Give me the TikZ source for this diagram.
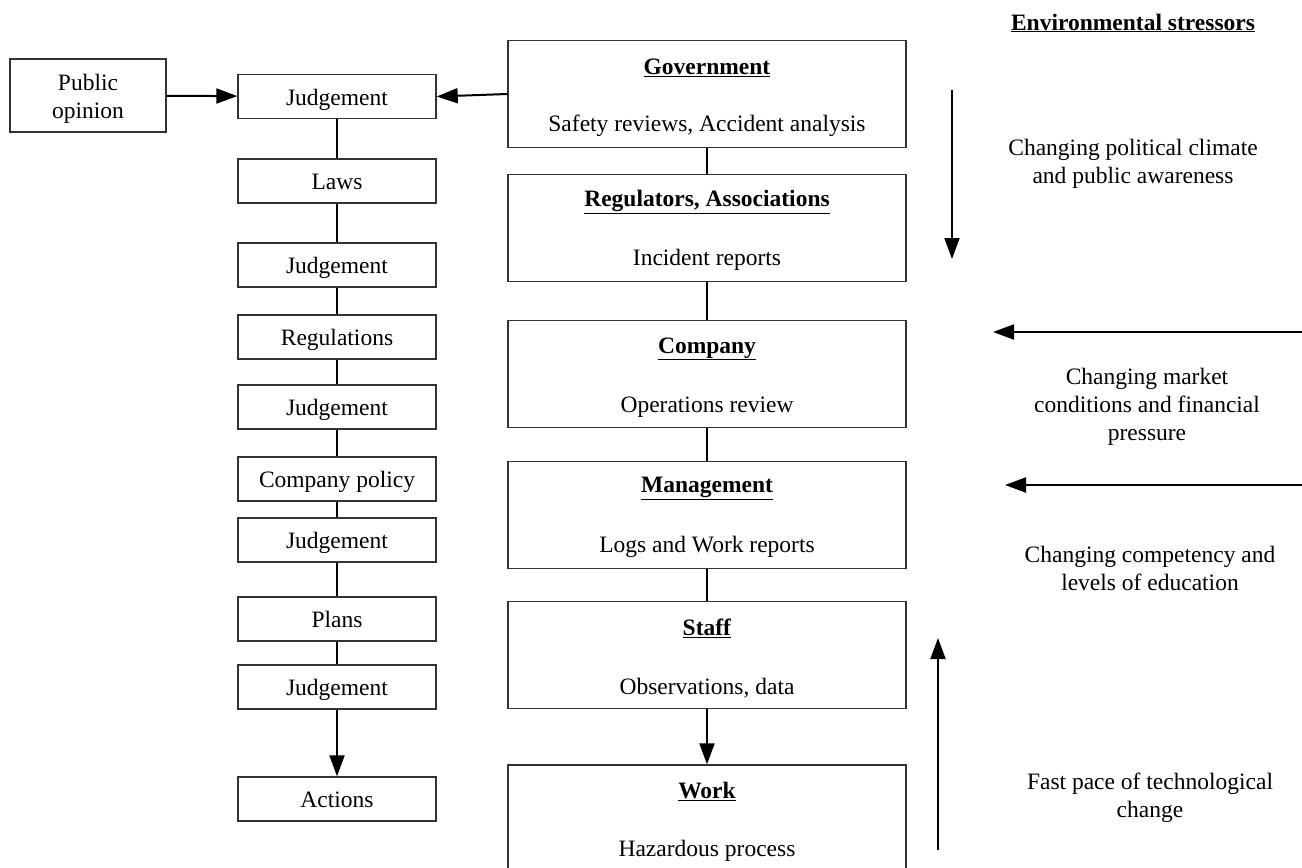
\documentclass[tikz,border=0pt]{standalone}
\usepackage{fontspec}
\setmainfont{Liberation Serif}
\usetikzlibrary{arrows.meta}
\begin{document}
\begin{tikzpicture}[x=1pt,y=-1pt,
  every node/.style={font=\fontsize{23.5}{28}\selectfont, inner sep=0pt},
  lbox/.style={draw=black!80, line width=1.4pt, minimum width=198pt, minimum height=44pt, text height=18pt, text depth=1pt},
  rbox/.style={draw=black!80, line width=1.4pt, minimum width=398pt, minimum height=107pt},
  conn/.style={line width=2pt, black},
  arr/.style={conn, -{Triangle[length=21pt,width=15pt]}},
  txt/.style={align=center}
]
\useasboundingbox (0,0) rectangle (1302,868);

% public opinion
\node[draw=black!80, line width=1.4pt, minimum width=156pt, minimum height=73pt] (pub) at (88,95.5) {};
\node[txt] (pubt) at ([yshift=-3pt]pub.center) {Public\\opinion};

% left column
\node[lbox] (j1) at (337,96.5) {Judgement};
\node[lbox] (laws) at (337,181) {Laws};
\node[lbox] (j2) at (337,265) {Judgement};
\node[lbox] (regs) at (337,337) {Regulations};
\node[lbox] (j3) at (337,407) {Judgement};
\node[lbox] (cpol) at (337,479) {Company policy};
\node[lbox] (j4) at (337,540) {Judgement};
\node[lbox] (plans) at (337,619) {Plans};
\node[lbox] (j5) at (337,687) {Judgement};
\node[lbox] (act) at (337,799) {Actions};

% right column
\node[rbox] (gov) at (707,94) {};
\node[rbox] (reg) at (707,228) {};
\node[rbox] (comp) at (707,374) {};
\node[rbox] (mgmt) at (707,515) {};
\node[rbox] (staff) at (707,655) {};
\node[rbox] (work) at (707,818.5) {};

\node (govt) at ([yshift=-28pt]gov.north) {\underline{\textbf{Government}}};
\node (govs) at ([yshift=22pt]gov.south) {Safety reviews, Accident analysis};
\node (regt) at ([yshift=-28pt]reg.north) {\underline{\textbf{Regulators, Associations}}};
\node (regs2) at ([yshift=22pt]reg.south) {Incident reports};
\node (compt) at ([yshift=-29pt]comp.north) {\underline{\textbf{Company}}};
\node (comps) at ([yshift=21pt]comp.south) {Operations review};
\node (mgmtt) at ([yshift=-28pt]mgmt.north) {\underline{\textbf{Management}}};
\node (mgmts) at ([yshift=22pt]mgmt.south) {Logs and Work reports};
\node (stafft) at ([yshift=-28pt]staff.north) {\underline{\textbf{Staff}}};
\node (staffs) at ([yshift=21pt]staff.south) {Observations, data};
\node (workt) at ([yshift=-27pt]work.north) {\underline{\textbf{Work}}};
\node (works) at ([yshift=22pt]work.south) {Hazardous process};

% connectors left
\draw[arr] (pub) -- (j1);
\draw[arr] (gov.west) -- (j1.east);
\draw[conn] (j1) -- (laws);
\draw[conn] (laws) -- (j2);
\draw[conn] (j2) -- (regs);
\draw[conn] (regs) -- (j3);
\draw[conn] (j3) -- (cpol);
\draw[conn] (cpol) -- (j4);
\draw[conn] (j4) -- (plans);
\draw[conn] (plans) -- (j5);
\draw[arr] (j5) -- (act);

% connectors right
\draw[conn] (gov) -- (reg);
\draw[conn] (reg) -- (comp);
\draw[conn] (comp) -- (mgmt);
\draw[conn] (mgmt) -- (staff);
\draw[arr] (staff) -- (work);

% environmental stressors
\node (env) at (1133,23) {\underline{\textbf{Environmental stressors}}};
\node[txt] (s1) at (1133,164) {Changing political climate\\and public awareness};
\node[txt] (s2) at (1147,406.5) {Changing market\\conditions and financial\\pressure};
\node[txt] (s3) at (1150,568.5) {Changing competency and\\levels of education};
\node[txt] (s4) at (1150,798) {Fast pace of technological\\change};

\coordinate (a1s) at (952,90);
\coordinate (a1e) at (952,259);
\coordinate (a2s) at (1302,332);
\coordinate (a2e) at (993,332);
\coordinate (a3s) at (1302,485);
\coordinate (a3e) at (1005,485);
\coordinate (a4s) at (938,850);
\coordinate (a4e) at (938,638);
\draw[arr] (a1s) -- (a1e);
\draw[arr] (a2s) -- (a2e);
\draw[arr] (a3s) -- (a3e);
\draw[arr] (a4s) -- (a4e);
\end{tikzpicture}
\end{document}
